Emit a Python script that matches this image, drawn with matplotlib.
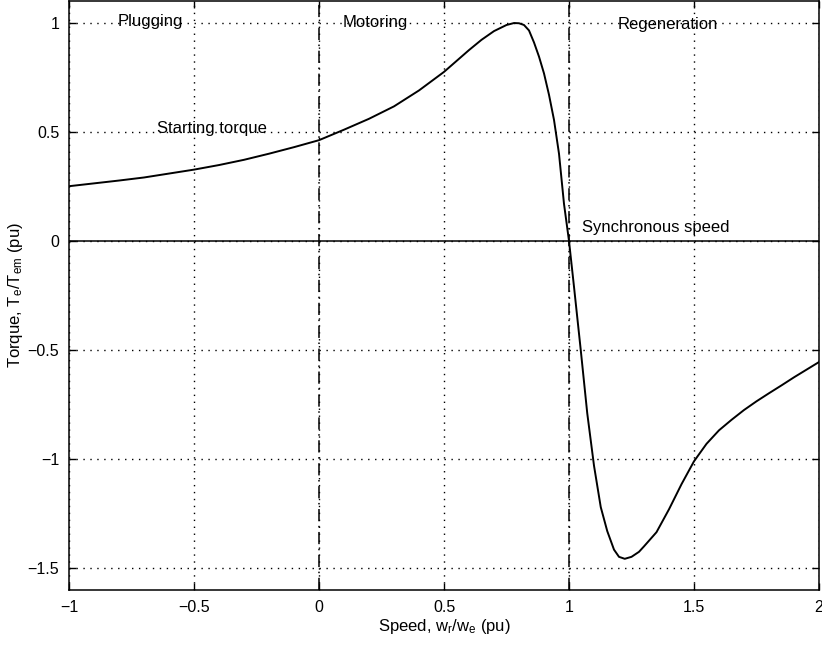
import numpy as np
import matplotlib
matplotlib.use('Agg')
import matplotlib.pyplot as plt

# torque-speed curve
speed = [-1.0, -0.9, -0.8, -0.7, -0.6, -0.5, -0.4, -0.3, -0.2, -0.1, 0.0,
         0.1, 0.2, 0.3, 0.4, 0.5, 0.55, 0.6, 0.65, 0.7, 0.75, 0.78, 0.8,
         0.82, 0.84, 0.86, 0.88, 0.9, 0.92, 0.94, 0.96, 0.98, 1.0, 1.02,
         1.047, 1.073, 1.1, 1.127, 1.153, 1.18, 1.2, 1.223, 1.25, 1.28,
         1.3, 1.35, 1.4, 1.45, 1.5, 1.55, 1.6, 1.65, 1.7, 1.75, 1.8,
         1.85, 1.9, 1.95, 2.0]
torque = [0.251, 0.264, 0.277, 0.291, 0.309, 0.327, 0.348, 0.372, 0.400,
          0.430, 0.462, 0.51, 0.56, 0.617, 0.69, 0.775, 0.825, 0.875, 0.922,
          0.962, 0.99, 0.999, 0.998, 0.99, 0.965, 0.91, 0.845, 0.768, 0.67,
          0.555, 0.40, 0.17, 0.0, -0.21, -0.5, -0.79, -1.03, -1.22, -1.33,
          -1.415, -1.448, -1.457, -1.448, -1.425, -1.40, -1.335, -1.23,
          -1.115, -1.01, -0.93, -0.868, -0.82, -0.775, -0.735, -0.698, -0.662,
          -0.625, -0.59, -0.555]

xticks = [-1, -0.5, 0, 0.5, 1, 1.5, 2]
xticklabels = ['\u22121', '\u22120.5', '0', '0.5', '1', '1.5', '2']
yticks = [-1.5, -1, -0.5, 0, 0.5, 1]
yticklabels = ['\u22121.5', '\u22121', '\u22120.5', '0', '0.5', '1']

# region boundaries and annotations
boundaries = [0, 1]
labels = ['Plugging', 'Motoring', 'Regeneration', 'Starting torque', 'Synchronous speed']
label_x = [-0.805, 0.094, 1.194, -0.647, 1.053]
label_y = [1.005, 1.0, 0.99, 0.516, 0.064]

plt.rcParams['font.family'] = ['Liberation Sans', 'DejaVu Sans']
plt.rcParams['mathtext.fontset'] = 'custom'
plt.rcParams['mathtext.rm'] = 'Liberation Sans'
plt.rcParams['mathtext.it'] = 'Liberation Sans'

fig = plt.figure(figsize=(8.22, 6.46), dpi=100)
ax = fig.add_axes([69/822, 56/646, 750/822, 589/646])

ax.grid(True, color='black', linestyle=(0, (1, 4)), linewidth=1.0)
ax.axhline(0, color='black', linewidth=1.1)
for b in boundaries:
    ax.axvline(b, color='black', linewidth=1.1, linestyle=(0, (8, 3, 1, 3)))

ax.plot(speed, torque, color='black', linewidth=1.4)

for t, x, y in zip(labels, label_x, label_y):
    ax.text(x, y, t, fontsize=12, ha='left', va='center')

ax.set_xlim(-1, 2)
ax.set_ylim(-1.6, 1.1)
ax.set_xticks(xticks)
ax.set_xticklabels(xticklabels)
ax.set_yticks(yticks)
ax.set_yticklabels(yticklabels)
ax.tick_params(direction='in', length=5, width=1, top=True, right=True,
               labelsize=11.5, pad=7)
for s in ax.spines.values():
    s.set_linewidth(1.1)

ax.set_xlabel(r'Speed, w$_r$/w$_e$ (pu)', fontsize=12, labelpad=2)
ax.set_ylabel(r'Torque, T$_e$/T$_{em}$ (pu)', fontsize=12, labelpad=2)

fig.savefig('out.png', dpi=100)
